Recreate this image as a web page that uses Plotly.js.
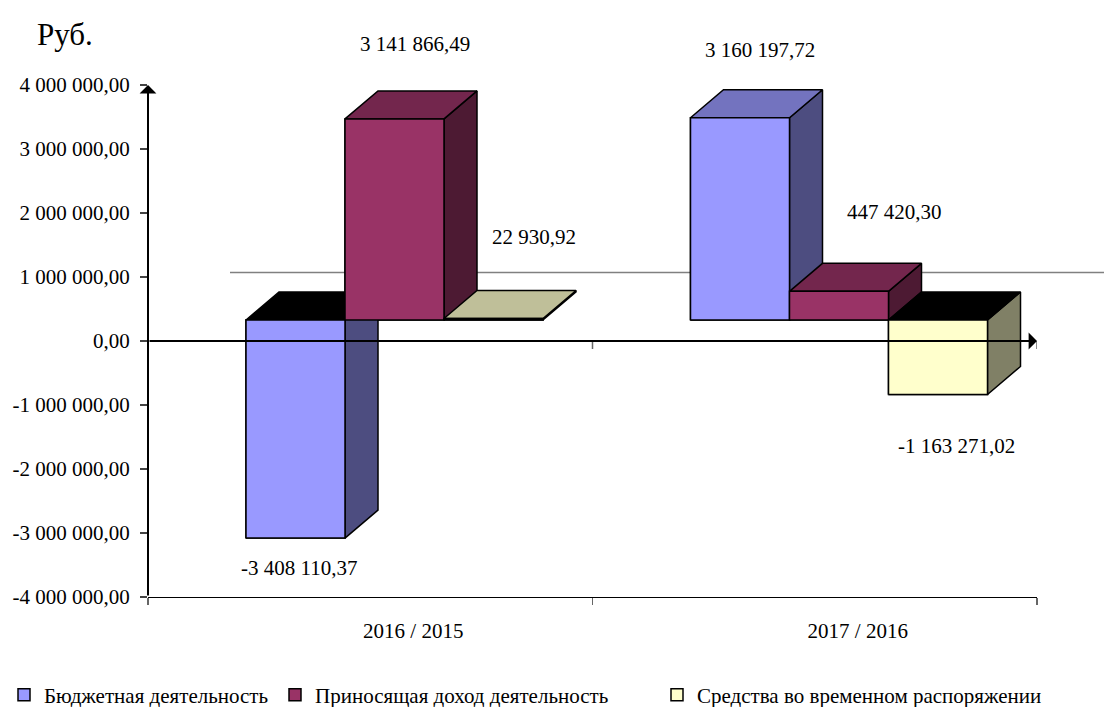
<!DOCTYPE html>
<html><head><meta charset="utf-8">
<script src="https://cdn.plot.ly/plotly-3.0.1.min.js"></script>
<style>html,body{margin:0;padding:0;background:#fff}#chart{width:1104px;height:707px}</style>
</head><body><div id="chart"></div>
<script>
// ---------- data ----------
const categories = ['2016 / 2015', '2017 / 2016'];
const seriesNames = ['Бюджетная деятельность', 'Приносящая доход деятельность', 'Средства во временном распоряжении'];
const budgetValues = [-3408110.37, 3160197.72];
const incomeValues = [3141866.49, 447420.30];
const tempValues = [22930.92, -1163271.02];
const yTickValues = [-4000000, -3000000, -2000000, -1000000, 0, 1000000, 2000000, 3000000, 4000000];
const unitLabel = 'Руб.';

// ---------- styles / geometry ----------
const FONT = '"Liberation Serif", "Times New Roman", Times, serif';
const seriesValues = [budgetValues, incomeValues, tempValues];
const seriesStyle = [
  {front: '#9999FF', side: '#4D4D80', top: '#7373BF'},
  {front: '#993366', side: '#4D1A33', top: '#73264D'},
  {front: '#FFFFCC', side: '#808066', top: '#BFBF99'}
];
const W = 1104, H = 707;
const M = {l: 148, r: 67, t: 85, b: 110, autoexpand: false};
const plotW = W - M.l - M.r, plotH = H - M.t - M.b;
const xRange = [0, 2], yRange = [-4000000, 4000000];
const PX_X = (xRange[1] - xRange[0]) / plotW;
const PX_Y = (yRange[1] - yRange[0]) / plotH;
const groupStart = 98 * PX_X;
const barW = 99 * PX_X;
const depthX = 33 * PX_X, depthY = 28 * PX_Y;
const baseOff = 21 * PX_Y;
// label offsets in pixels [xshift, yshift(up)] per category, per series
const labelShift = [
  [[3, -30], [20, 75], [40, 82]],
  [[20, 68], [55, 79], [18, -52]]
];

function fmt(v) {
  const neg = v < 0;
  const a = Math.abs(v).toFixed(2);
  let [ip, dp] = a.split('.');
  ip = ip.replace(/\B(?=(\d{3})+(?!\d))/g, ' ');
  return (neg ? '-' : '') + ip + ',' + dp;
}

const traces = [];
// bar traces (front faces + legend entries)
seriesNames.forEach((name, i) => {
  traces.push({
    type: 'bar', name: name,
    x: categories.map((c, ci) => ci),
    y: seriesValues[i],
    base: baseOff,
    offset: groupStart + i * barW,
    width: barW,
    marker: {color: seriesStyle[i].front, line: {color: '#000', width: 1.5}},
    legend: i === 0 ? 'legend' : 'legend' + (i + 1),
    hoverinfo: 'skip'
  });
});

function poly(xs, ys, color) {
  traces.push({
    type: 'scatter', mode: 'lines', x: xs.concat([xs[0]]), y: ys.concat([ys[0]]),
    fill: 'toself', fillcolor: color, line: {color: '#000', width: 1.5},
    showlegend: false, hoverinfo: 'skip'
  });
}
// 3D faces drawn in depth order
categories.forEach((c, ci) => {
  seriesValues.forEach((vals, i) => {
    const v = vals[ci];
    const x0 = ci + groupStart + i * barW, x1 = x0 + barW;
    const yb = baseOff, yt = baseOff + v;
    const lo = Math.min(yb, yt), hi = Math.max(yb, yt);
    const st = seriesStyle[i];
    poly([x1, x1 + depthX, x1 + depthX, x1], [lo, lo + depthY, hi + depthY, hi], st.side);
    poly([x0, x1, x1 + depthX, x0 + depthX], [hi, hi, hi + depthY, hi + depthY], v >= 0 ? st.top : '#000000');
    poly([x0, x1, x1, x0], [lo, lo, hi, hi], st.front);
  });
});

const annotations = [];
categories.forEach((c, ci) => {
  seriesValues.forEach((vals, i) => {
    const v = vals[ci];
    annotations.push({
      x: ci + groupStart + i * barW + barW / 2, y: baseOff + v, xref: 'x', yref: 'y',
      text: fmt(v), showarrow: false,
      xshift: labelShift[ci][i][0], yshift: labelShift[ci][i][1],
      font: {family: FONT, size: 21, color: '#000'}
    });
  });
});
// axis arrows
annotations.push({
  x: 0, y: yRange[1], ax: 0, ay: yRange[0], xref: 'x', yref: 'y', axref: 'x', ayref: 'y',
  text: '', showarrow: true, arrowhead: 1, arrowsize: 1.4, arrowwidth: 2, arrowcolor: '#000'
});
annotations.push({
  x: xRange[1], y: 0, ax: xRange[0], ay: 0, xref: 'x', yref: 'y', axref: 'x', ayref: 'y',
  text: '', showarrow: true, arrowhead: 1, arrowsize: 1.4, arrowwidth: 2, arrowcolor: '#000'
});
// unit label
annotations.push({
  x: (35 - M.l) / plotW, y: (H - M.b - 34) / plotH, xref: 'paper', yref: 'paper',
  xanchor: 'left', yanchor: 'middle', text: unitLabel, showarrow: false,
  font: {family: FONT, size: 31, color: '#000'}
});

const shapes = [
  {type: 'line', xref: 'paper', yref: 'paper', x0: (230 - M.l) / plotW, x1: (W - M.l) / plotW,
   y0: (H - M.b - 272.5) / plotH, y1: (H - M.b - 272.5) / plotH,
   line: {color: '#808080', width: 1.5}, layer: 'below'},
  {type: 'line', xref: 'x', yref: 'y', ysizemode: 'pixel', yanchor: 0, x0: 1, x1: 1, y0: 0, y1: -8,
   line: {color: '#666', width: 1.5}},
  {type: 'line', xref: 'x', yref: 'y', ysizemode: 'pixel', yanchor: 0, x0: 2, x1: 2, y0: 0, y1: -8,
   line: {color: '#666', width: 1.5}}
];

const legendBase = {orientation: 'h', yanchor: 'middle', xanchor: 'left', y: (H - M.b - 695) / plotH,
  font: {family: FONT, size: 21, color: '#000'}, bgcolor: 'rgba(0,0,0,0)'};

const layout = {
  width: W, height: H, margin: M,
  paper_bgcolor: '#fff', plot_bgcolor: '#fff',
  barmode: 'overlay',
  font: {family: FONT, size: 21, color: '#000'},
  xaxis: {
    range: xRange, showgrid: false, zeroline: false, showline: true, linecolor: '#000', linewidth: 1,
    tickmode: 'array', tickvals: [0.5, 1.5], ticktext: categories, ticks: '',
    ticklabelshift: 43, ticklabelstandoff: 15,
    minor: {tickmode: 'array', tickvals: [0, 1, 2], ticks: 'outside', ticklen: 7, tickcolor: '#666', tickwidth: 1.5},
    tickfont: {family: FONT, size: 21, color: '#000'}, fixedrange: true
  },
  yaxis: {
    range: yRange, showgrid: false, zeroline: false, showline: false,
    tickmode: 'array', tickvals: yTickValues, ticktext: yTickValues.map(fmt),
    ticks: 'outside', ticklen: 7, tickcolor: '#444', tickwidth: 1.5, ticklabelstandoff: 6,
    tickfont: {family: FONT, size: 21, color: '#000'}, fixedrange: true
  },
  legend: Object.assign({}, legendBase, {x: (4 - M.l) / plotW}),
  legend2: Object.assign({}, legendBase, {x: (275 - M.l) / plotW}),
  legend3: Object.assign({}, legendBase, {x: (657 - M.l) / plotW}),
  showlegend: true,
  annotations: annotations,
  shapes: shapes
};

Plotly.newPlot('chart', traces, layout, {displayModeBar: false, staticPlot: true});
</script>
</body></html>
